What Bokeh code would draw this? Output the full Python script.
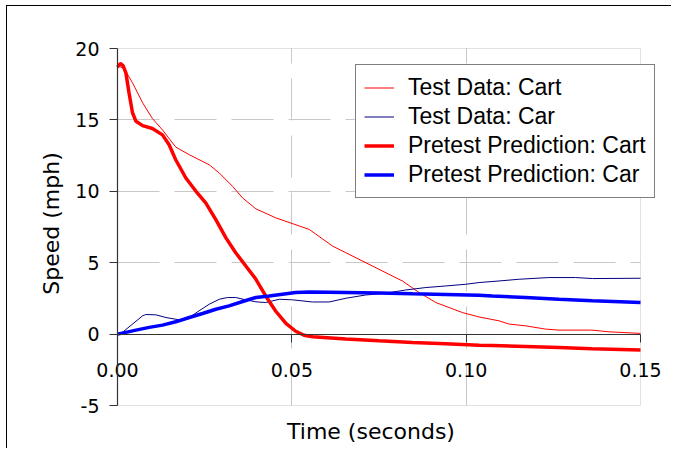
from bokeh.plotting import figure
from bokeh.models import LinearAxis, FixedTicker, Legend, LegendItem, Range1d, BoxAnnotation
from bokeh.embed import file_html
from bokeh.resources import INLINE

# ---- data ----
test_cart_t = [0, 0.0019, 0.0043, 0.0072, 0.010, 0.0129, 0.0167, 0.0206, 0.0263, 0.0292, 0.033,
               0.0359, 0.0397, 0.0454, 0.055, 0.0617, 0.0655, 0.075, 0.0817, 0.0865, 0.0913,
               0.0989, 0.1037, 0.1094, 0.1123, 0.117, 0.1228, 0.1266, 0.136, 0.141, 0.15]
test_cart_v = [18.8, 18.6, 17.6, 16.2, 15.1, 14.3, 13.1, 12.56, 11.86, 11.28, 10.35,
               9.53, 8.77, 8.14, 7.33, 6.16, 5.70, 4.54, 3.72, 2.91, 2.21,
               1.51, 1.2, 0.93, 0.70, 0.58, 0.35, 0.28, 0.28, 0.16, 0.05]

test_car_t = [0, 0.0014, 0.0043, 0.0072, 0.0081, 0.011, 0.0139, 0.0177, 0.0206, 0.0234, 0.0263,
              0.0292, 0.0315, 0.0339, 0.0368, 0.0397, 0.0425, 0.0464, 0.0502, 0.0559, 0.0607,
              0.0655, 0.0712, 0.0769, 0.0827, 0.0884, 0.0941, 0.0999, 0.1037, 0.1094, 0.1151,
              0.1237, 0.1314, 0.1362, 0.15]
test_car_v = [0, 0.12, 0.70, 1.28, 1.37, 1.35, 1.16, 1.0, 1.16, 1.63, 2.09,
              2.44, 2.56, 2.56, 2.40, 2.26, 2.21, 2.44, 2.40, 2.25, 2.25,
              2.51, 2.74, 2.86, 3.09, 3.26, 3.37, 3.49, 3.61, 3.72, 3.84,
              3.96, 3.96, 3.89, 3.91]

pre_cart_t = [0, 0.0008, 0.0016, 0.0024, 0.0033, 0.0043, 0.0053, 0.0072, 0.010, 0.0129, 0.0148,
              0.0167, 0.0196, 0.0225, 0.0253, 0.0282, 0.0311, 0.0339, 0.0368, 0.0397, 0.0425,
              0.0454, 0.0483, 0.0511, 0.0535, 0.056, 0.0655, 0.075, 0.0846, 0.0941, 0.1037,
              0.1075, 0.117, 0.1266, 0.136, 0.15]
pre_cart_v = [18.7, 18.95, 18.8, 18.3, 16.9, 15.5, 14.9, 14.6, 14.4, 13.95, 13.26,
              12.21, 10.93, 10.0, 9.19, 8.02, 6.74, 5.70, 4.77, 3.84, 2.67,
              1.6, 0.75, 0.2, -0.08, -0.19, -0.35, -0.47, -0.58, -0.68, -0.78,
              -0.8, -0.86, -0.93, -1.02, -1.12]

pre_car_t = [0, 0.0024, 0.0053, 0.0091, 0.0129, 0.0167, 0.0206, 0.0244, 0.0282, 0.032, 0.0359,
             0.0397, 0.0435, 0.0473, 0.0511, 0.055, 0.0607, 0.075, 0.0846, 0.0941, 0.1037,
             0.1075, 0.117, 0.1266, 0.1362, 0.15]
pre_car_v = [0, 0.12, 0.28, 0.47, 0.63, 0.86, 1.16, 1.44, 1.74, 1.98, 2.28,
             2.56, 2.67, 2.79, 2.91, 2.95, 2.93, 2.88, 2.82, 2.78, 2.72,
             2.67, 2.56, 2.44, 2.33, 2.21]

series_names = ["Test Data: Cart", "Test Data: Car",
                "Pretest Prediction: Cart", "Pretest Prediction: Car"]

x_ticks = [0, 0.05, 0.10, 0.15]
x_tick_labels = ["0.00", "0.05", "0.10", "0.15"]
y_ticks = [-5, 0, 5, 10, 15, 20]
y_tick_labels = ["-5", "0", "5", "10", "15", "20"]

x_title = "Time (seconds)"
y_title = "Speed (mph)"

X_MIN, X_MAX = x_ticks[0], x_ticks[-1]
Y_MIN, Y_MAX = y_ticks[0], y_ticks[-1]

TICK_FONT = "DejaVu Sans"

# ---- layout (pixels) ----
W, H = 665, 443
PLOT_L, PLOT_R, PLOT_T, PLOT_B = 110, 633, 42, 399     # plot-area box inside canvas
FRAME_L, FRAME_R, FRAME_T, FRAME_B = 62, W, 23, 411     # drawing frame (larger, so labels are not clipped)

sx = (PLOT_R - PLOT_L) / (X_MAX - X_MIN)
sy = (PLOT_B - PLOT_T) / (Y_MAX - Y_MIN)
x_range = Range1d(X_MIN - (PLOT_L - FRAME_L) / sx, X_MAX + (FRAME_R - PLOT_R) / sx)
y_range = Range1d(Y_MIN - (FRAME_B - PLOT_B) / sy, Y_MAX + (PLOT_T - FRAME_T) / sy)

p = figure(width=W, height=H, output_backend="svg", toolbar_location=None,
           x_range=x_range, y_range=y_range,
           min_border_left=FRAME_L, min_border_right=W - FRAME_R,
           min_border_top=FRAME_T, min_border_bottom=H - FRAME_B)
p.styles = {"border-top": "1px solid black", "border-left": "1px solid black",
            "margin-left": "6px", "margin-top": "5px"}
p.background_fill_color = "white"
p.border_fill_color = "white"
p.outline_line_color = None

# grids limited to the plot area
for g in (p.xgrid, p.ygrid):
    g.grid_line_color = "#C8C8C8"
    g.grid_line_dash = "42 15"
    g.grid_line_width = 1
p.xgrid.ticker = FixedTicker(ticks=x_ticks[1:-1])
p.ygrid.ticker = FixedTicker(ticks=y_ticks[1:-1])
p.xgrid.cross_bounds = (Y_MIN, Y_MAX)
p.ygrid.cross_bounds = (X_MIN, X_MAX)

# plot-area border
p.add_layout(BoxAnnotation(left=X_MIN, right=X_MAX, bottom=Y_MIN, top=Y_MAX,
                           fill_color=None, line_color="#A0A0A0", line_width=1, level="underlay"))

# side axes: titles only
ya = p.yaxis[0]
ya.ticker = FixedTicker(ticks=[])
ya.axis_line_color = None
ya.major_tick_line_color = None
ya.minor_tick_line_color = None
ya.axis_label = y_title
ya.axis_label_text_font = TICK_FONT
ya.axis_label_text_font_size = "22px"
ya.axis_label_text_font_style = "normal"
ya.axis_label_text_color = "black"
ya.axis_label_standoff = 6

xa = p.xaxis[0]
xa.ticker = FixedTicker(ticks=[])
xa.axis_line_color = None
xa.major_tick_line_color = None
xa.minor_tick_line_color = None
xa.axis_label = x_title
xa.axis_label_text_font = TICK_FONT
xa.axis_label_text_font_size = "22px"
xa.axis_label_text_font_style = "normal"
xa.axis_label_text_color = "black"
xa.axis_label_standoff = 1

# value axis at x = 0
y0 = LinearAxis(fixed_location=X_MIN, ticker=FixedTicker(ticks=y_ticks), bounds=(Y_MIN, Y_MAX))
y0.major_label_overrides = {t: l for t, l in zip(y_ticks, y_tick_labels)}
y0.axis_line_color = "#333333"
y0.axis_line_width = 1.2
y0.major_tick_line_color = "#333333"
y0.major_tick_out = 8
y0.major_tick_in = 0
y0.minor_tick_line_color = None
y0.major_label_standoff = 10
y0.major_label_text_font = TICK_FONT
y0.major_label_text_font_size = "19px"
y0.major_label_text_color = "black"
p.add_layout(y0, "left")

# time axis crossing at y = 0
x0 = LinearAxis(fixed_location=0, ticker=FixedTicker(ticks=x_ticks), bounds=(X_MIN, X_MAX))
x0.major_label_overrides = {t: l for t, l in zip(x_ticks, x_tick_labels)}
x0.axis_line_color = "#333333"
x0.axis_line_width = 1.2
x0.major_tick_line_color = "#333333"
x0.major_tick_out = 8
x0.major_tick_in = 0
x0.minor_tick_line_color = None
x0.major_label_standoff = 21
x0.major_label_text_font = TICK_FONT
x0.major_label_text_font_size = "19px"
x0.major_label_text_color = "black"
p.add_layout(x0, "below")

r1 = p.line(test_cart_t, test_cart_v, line_color="#FF0000", line_width=1)
r2 = p.line(test_car_t, test_car_v, line_color="#000080", line_width=1)
r3 = p.line(pre_cart_t, pre_cart_v, line_color="#FF0000", line_width=3.5)
r4 = p.line(pre_car_t, pre_car_v, line_color="#0000FF", line_width=3.5)

legend = Legend(items=[LegendItem(label=n, renderers=[r]) for n, r in zip(series_names, [r1, r2, r3, r4])],
                location=(348 - FRAME_L, FRAME_B - 192))
legend.label_text_font = "Liberation Sans"
legend.label_text_font_size = "23px"
legend.label_text_color = "black"
legend.border_line_color = "black"
legend.border_line_width = 1
legend.background_fill_color = "white"
legend.background_fill_alpha = 1
legend.padding = 8
legend.spacing = 0
legend.margin = 0
legend.label_height = 29
legend.glyph_height = 29
legend.glyph_width = 30
legend.label_standoff = 14
p.add_layout(legend, "center")

open("out.html", "w").write(file_html(p, INLINE))
